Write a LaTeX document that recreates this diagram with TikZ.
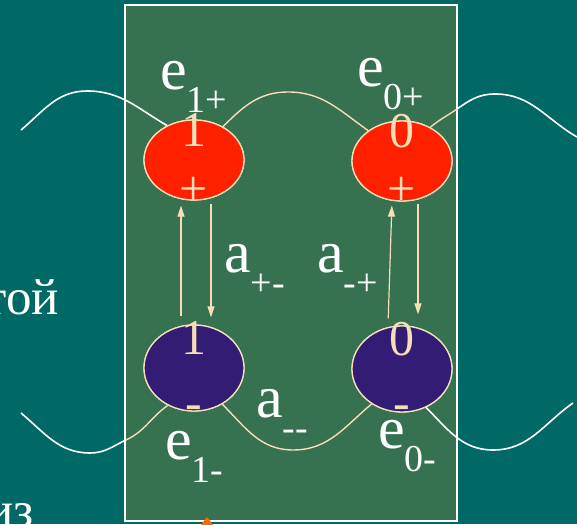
\documentclass[tikz,border=0pt]{standalone}
\usepackage{fontspec}
\setmainfont{Liberation Serif}
\usetikzlibrary{shapes.geometric,arrows.meta}

\definecolor{sea}{HTML}{006865}
\definecolor{board}{HTML}{367150}
\definecolor{hot}{HTML}{FF2000}
\definecolor{cold}{HTML}{331C73}
\definecolor{cream}{HTML}{F5DEB8}
\definecolor{spark}{HTML}{FF6A00}

\newcommand{\lowidx}[1]{\raisebox{-23pt}{\fontsize{38}{38}\selectfont #1}}

\begin{document}
\begin{tikzpicture}[x=1pt,y=1pt,
  level/.style={ellipse, draw=cream, line width=1.3pt, minimum width=100pt, inner sep=0pt},
  digit/.style={text=cream, inner sep=0pt, anchor=base, font=\fontsize{50}{50}\selectfont},
  lab/.style={text=white, inner sep=0pt, anchor=base west, font=\fontsize{60}{60}\selectfont},
  word/.style={text=white, inner sep=0pt, anchor=base east, font=\fontsize{51}{51}\selectfont},
  wave/.style={white, line width=1.6pt},
  cwave/.style={cream, line width=1.4pt},
  jump/.style={cream, line width=1.2pt, -{Triangle[length=11pt,width=7pt]}},
]

% ---- Background and board ----
\useasboundingbox (0,0) rectangle (577,524);
\fill[sea] (0,0) rectangle (577,524);
\clip (0,0) rectangle (577,524);
\draw[white, line width=1.5pt, fill=board] (125,3) rectangle (457,519);

% Text cut at the left edge
\node[word] (w1) at (59,209) {той};
\node[word] (w2) at (34,-3) {из};
\fill[spark] (200,-2) -- (207,7) -- (214,-2) -- cycle;

% ---- Waves (behind the levels) ----
\coordinate (tl) at (21,394);
\coordinate (tlp) at (87,433);
\coordinate (tmp) at (288,432);
\coordinate (trb) at (457,415);
\coordinate (trp) at (495,430);
\coordinate (tr) at (577,387);
\coordinate (bl) at (21,111);
\coordinate (blt) at (90,71);
\coordinate (blb) at (126,84);
\coordinate (bmt) at (293,74);
\coordinate (brt) at (493,74);
\coordinate (br) at (573,121);

% levels placed first so the waves can use their borders
\path node[level, minimum height=80pt] (r1) at (194,364) {}
      node[level, minimum height=80pt] (r0) at (402,363) {}
      node[level, minimum height=86pt] (b1) at (194,156) {}
      node[level, minimum height=86pt] (b0) at (402,155) {};

\draw[wave]  (tl) to[out=40,in=180] (tlp) to[out=0,in=150] (r1.128);
\draw[cwave] (r1.49) to[out=45,in=180] (tmp) to[out=0,in=145] (r0.138);
\draw[cwave] (r0.50) to[out=40,in=215] (trb);
\draw[wave]  (trb) to[out=35,in=180] (trp) to[out=0,in=150] (tr);
\draw[wave]  (bl) to[out=-40,in=180] (blt) to[out=0,in=205] (blb);
\draw[cwave] (blb) to[out=25,in=215] (b1.235);
\draw[cwave] (b1.-52) to[out=-45,in=180] (bmt) to[out=0,in=-140] (b0.229);
\draw[wave]  (b0.-58) to[out=-45,in=180] (brt) to[out=0,in=215] (br);

% fill the levels over the wave ends
\node[level, fill=hot,  minimum height=80pt] at (r1) {};
\node[level, fill=hot,  minimum height=80pt] at (r0) {};
\node[level, fill=cold, minimum height=86pt] at (b1) {};
\node[level, fill=cold, minimum height=86pt] at (b0) {};

% Level marks
\node[digit] (r1n) at (194,377) {1};
\node[digit] (r0n) at (402,376) {0};
\node[digit] (r1s) at (194,318) {+};
\node[digit] (r0s) at (402,318) {+};
\node[digit] (b1n) at (194,169) {1};
\node[digit] (b0n) at (402,168) {0};
\node[digit] (b1s) at (194,104) {-};
\node[digit] (b0s) at (402,104) {-};

% ---- Transitions ----
\draw[jump, shorten <=8pt, shorten >=5pt]  ([xshift=-13pt]b1.north) -- ([xshift=-13pt]r1.south);
\draw[jump, shorten <=3pt, shorten >=7pt]  ([xshift=17pt]r1.south) -- ([xshift=17pt]b1.north);
\draw[jump, shorten <=7pt, shorten >=4pt]  ([xshift=-14pt]b0.north) -- ([xshift=-10pt]r0.south);
\draw[jump, shorten <=2pt, shorten >=11pt] ([xshift=16pt]r0.south) -- ([xshift=16pt]b0.north);

% Labels
\node[lab] (e1p) at (160,434) {e\lowidx{1+}};
\node[lab] (e0p) at (357,437) {e\lowidx{0+}};
\node[lab] (apm) at (224,251) {a\lowidx{+-}};
\node[lab] (amp) at (317,251) {a\lowidx{-+}};
\node[lab] (amm) at (256,106) {a\lowidx{-\kern0pt-}};
\node[lab] (e1m) at (165,65) {e\lowidx{1-}};
\node[lab] (e0m) at (378,75) {e\lowidx{0-}};

\end{tikzpicture}
\end{document}
